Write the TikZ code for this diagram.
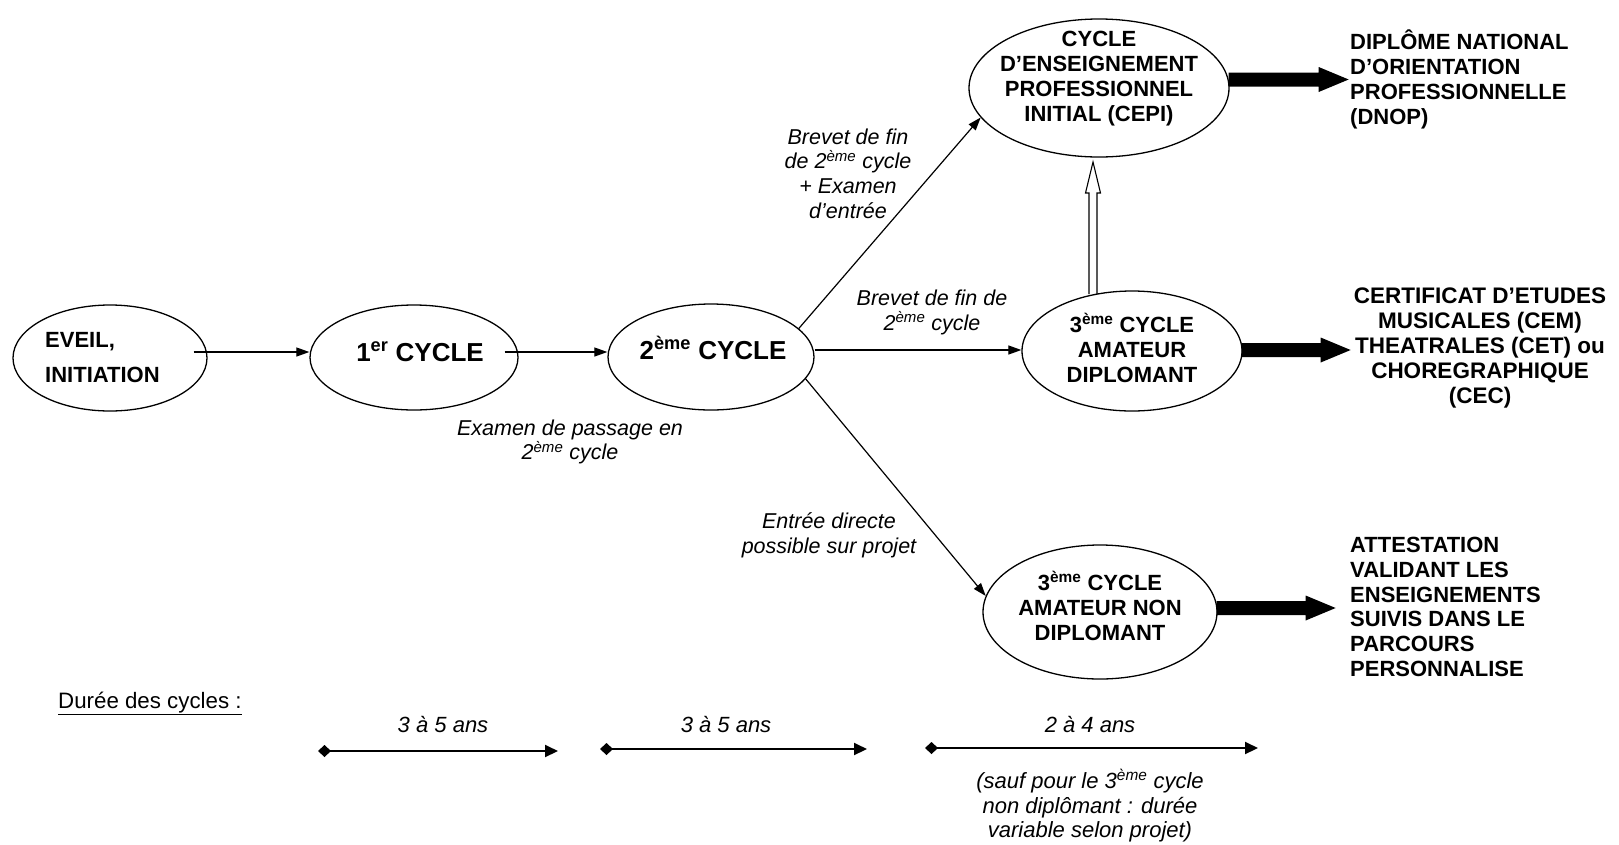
\documentclass[tikz,border=0pt]{standalone}
\usepackage{fontspec}
\setmainfont{Liberation Sans}
\usetikzlibrary{shapes.geometric,arrows.meta,calc}
\newcommand\fatarrow[2]{\fill (#1) ++(-1,-7) -- ++(#2,0) -- ++(0,-5.5) -- ++(30,12.5) -- ++(-30,12.5) -- ++(0,-5.5) -- ++(-#2,0) -- cycle;}
\begin{document}
\begin{tikzpicture}[x=1pt,y=-1pt,
  cyc/.style={draw, ellipse, line width=1.3pt, inner sep=0pt},
  btxt/.style={font=\bfseries\fontsize{22}{25}\selectfont, align=center, inner sep=0pt},
  bigtxt/.style={font=\bfseries\fontsize{26}{30}\selectfont, inner sep=0pt},
  lbl/.style={font=\itshape\fontsize{21.5}{24.7}\selectfont, align=center, inner sep=0pt},
  durtxt/.style={font=\itshape\fontsize{22}{24.7}\selectfont, align=center, inner sep=0pt},
  conn/.style={line width=1.2pt, -{Triangle[length=13pt,width=9pt]}},
  dur/.style={line width=2pt, {Diamond[length=13pt,width=12pt]}-{Triangle[length=13pt,width=12pt]}},
]
\fill[white] (0,0) rectangle (1619,844);
\useasboundingbox (0,0) rectangle (1619,844);

% hollow arrow
\coordinate (hb) at (1093,294);
\coordinate (ht) at (1093,162);
\draw[line width=1.1pt, fill=white] ([xshift=-4pt]hb) -- ++(0,-101) -- ++(-3.5,0) -- (ht) -- ++(7.5,31) -- ++(-3.5,0) -- ++(0,101);

% ellipses
\node[cyc, minimum width=194pt, minimum height=106pt] (eveil) at (110,358) {};
\node[cyc, minimum width=208pt, minimum height=105pt] (c1) at (414,357.5) {};
\node[cyc, minimum width=206pt, minimum height=106pt] (c2) at (711,357) {};
\node[cyc, minimum width=260pt, minimum height=138pt] (cepi) at (1099,88) {};
\node[cyc, minimum width=220pt, minimum height=120pt] (ad) at (1132,351) {};
\node[cyc, minimum width=234pt, minimum height=134pt] (nond) at (1100,612) {};

% texts in ellipses
\node[btxt, align=left, font=\bfseries\fontsize{22}{35}\selectfont, anchor=west] (teveil) at (45,358) {EVEIL,\\INITIATION};
\node[bigtxt, anchor=base] (tc1) at (420,361) {1\textsuperscript{er} CYCLE};
\node[bigtxt, anchor=base] (tc2) at (713,359) {2\textsuperscript{ème} CYCLE};
\node[btxt] (tcepi) at (1099,79) {CYCLE\\D’ENSEIGNEMENT\\PROFESSIONNEL\\INITIAL (CEPI)};
\node[btxt] (tad) at (1132,348) {3\textsuperscript{ème} CYCLE\\AMATEUR\\DIPLOMANT};
\node[btxt] (tnond) at (1100,606) {3\textsuperscript{ème} CYCLE\\AMATEUR NON\\DIPLOMANT};

% outcome texts
\node[btxt, align=left, anchor=west] (dnop) at (1350,79) {DIPLÔME NATIONAL\\D’ORIENTATION\\PROFESSIONNELLE\\(DNOP)};
\node[btxt, font=\bfseries\fontsize{22.5}{25}\selectfont] (cem) at (1480,348) {CERTIFICAT D’ETUDES\\MUSICALES (CEM)\\THEATRALES (CET) ou\\CHOREGRAPHIQUE\\(CEC)};
\node[btxt, align=left, anchor=west, font=\bfseries\fontsize{22}{24.8}\selectfont] (att) at (1350,607) {ATTESTATION\\VALIDANT LES\\ENSEIGNEMENTS\\SUIVIS DANS LE\\PARCOURS\\PERSONNALISE};

% labels
\node[lbl] (l1) at (848,173.5) {Brevet de fin\\de 2\textsuperscript{ème} cycle\\+ Examen\\d’entrée};
\node[lbl] (l2) at (932,312.5) {Brevet de fin de\\2\textsuperscript{ème} cycle};
\node[lbl] (l3) at (570,442) {Examen de passage en\\2\textsuperscript{ème} cycle};
\node[lbl] (l4) at (829,535.5) {Entrée directe\\possible sur projet};

% connectors
\draw[conn] ([xshift=-14pt,yshift=6pt]eveil.east) -- ([yshift=5.5pt]c1.west);
\draw[conn] ([xshift=-14pt,yshift=5.5pt]c1.east) -- ([yshift=5pt]c2.west);
\draw[conn] ([yshift=7pt]c2.east) -- ([yshift=1pt]ad.west);
\draw[conn] (c2.18) -- (cepi.194);
\draw[conn] (c2.-13) -- (nond.172);

% thick arrows
\fatarrow{[yshift=8.5pt]cepi.east}{90}
\fatarrow{[yshift=1pt]ad.east}{79}
\fatarrow{[yshift=4pt]nond.east}{89}

% durations
\node[font=\fontsize{22.3}{24}\selectfont, anchor=base west, inner sep=0pt] (duree) at (58,708.5) {\underline{Durée des cycles :}};
\node[durtxt, anchor=base] (t1) at (443,732) {3 à 5 ans};
\node[durtxt, anchor=base] (t2) at (726,732) {3 à 5 ans};
\node[durtxt, anchor=base] (t3) at (1090,732) {2 à 4 ans};
\node[durtxt] (sauf) at (1090,806) {(sauf pour le 3\textsuperscript{ème} cycle\\non diplômant : durée\\variable selon projet)};
\coordinate (d1a) at (318,751); \coordinate (d1b) at (558,751);
\coordinate (d2a) at (600,749); \coordinate (d2b) at (867,749);
\coordinate (d3a) at (925,748); \coordinate (d3b) at (1258,748);
\draw[dur] (d1a) -- (d1b);
\draw[dur] (d2a) -- (d2b);
\draw[dur] (d3a) -- (d3b);
\end{tikzpicture}
\end{document}
